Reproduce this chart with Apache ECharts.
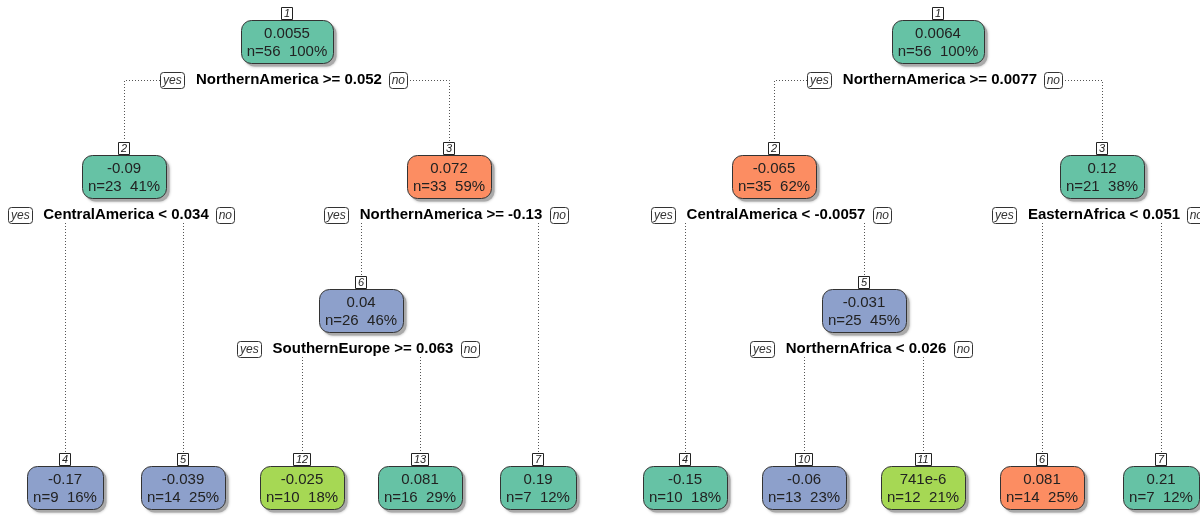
<!DOCTYPE html>
<html lang="en">
<head>
<meta charset="UTF-8">
<title>rpart trees</title>
<script src="https://cdn.jsdelivr.net/npm/echarts@6/dist/echarts.min.js"></script>
<style>
    html, body { margin: 0; padding: 0; background: #fff; }
    #main { width: 1200px; height: 517px; }
</style>
</head>
<body>
<div id="main"></div>
<script>
// left tree (rpart node numbering: children of k are 2k and 2k+1)
var leftIds = [1, 2, 3, 4, 5, 6, 12, 13, 7];
var leftValues = ['0.0055', '-0.09', '0.072', '-0.17', '-0.039', '0.04', '-0.025', '0.081', '0.19'];
var leftN = [56, 23, 33, 9, 14, 26, 10, 16, 7];
var leftPct = [100, 41, 59, 16, 25, 46, 18, 29, 12];
var leftClass = ['g', 'g', 'o', 'b', 'b', 'b', 'l', 'g', 'g'];
var leftSplitIds = [1, 2, 3, 6];
var leftSplits = ['NorthernAmerica >= 0.052', 'CentralAmerica < 0.034', 'NorthernAmerica >= -0.13', 'SouthernEurope >= 0.063'];

// right tree
var rightIds = [1, 2, 3, 4, 5, 10, 11, 6, 7];
var rightValues = ['0.0064', '-0.065', '0.12', '-0.15', '-0.031', '-0.06', '741e-6', '0.081', '0.21'];
var rightN = [56, 35, 21, 10, 25, 13, 12, 14, 7];
var rightPct = [100, 62, 38, 18, 45, 23, 21, 25, 12];
var rightClass = ['g', 'o', 'g', 'g', 'b', 'b', 'l', 'o', 'g'];
var rightSplitIds = [1, 2, 3, 5];
var rightSplits = ['NorthernAmerica >= 0.0077', 'CentralAmerica < -0.0057', 'EasternAfrica < 0.051', 'NorthernAfrica < 0.026'];

var palette = { g: '#66C2A5', o: '#FC8D62', b: '#8DA0CB', l: '#A6D854' };

var LEAF_LEVEL = 3.316;   // leaves fall to the bottom
var FONT_NODE = '15px "Liberation Sans", Arial, sans-serif';
var FONT_SPLIT = 'bold 15px "Liberation Sans", Arial, sans-serif';
var FONT_YESNO = 'italic 12px "Liberation Sans", Arial, sans-serif';
var FONT_NUM = 'italic 11px "Liberation Sans", Arial, sans-serif';

var mctx = document.createElement('canvas').getContext('2d');
function textW(s, font) {
    mctx.font = font;
    return mctx.measureText(s).width;
}

// leaves get 0,1,2.. left to right, inner nodes sit over the middle of their children
function layoutTree(ids) {
    var has = {}, pos = {}, leafCount = 0;
    ids.forEach(function (id) { has[id] = true; });
    function visit(id, depth) {
        if (has[id * 2]) {
            visit(id * 2, depth + 1);
            visit(id * 2 + 1, depth + 1);
            pos[id] = { x: (pos[id * 2].x + pos[id * 2 + 1].x) / 2, y: depth };
        } else {
            pos[id] = { x: leafCount++, y: LEAF_LEVEL };
        }
    }
    visit(1, 0);
    return pos;
}

function makeTree(ids, values, n, pct, cls, splitIds, splits) {
    var split = {};
    splitIds.forEach(function (id, k) { split[id] = splits[k]; });
    return { ids: ids, values: values, n: n, pct: pct, cls: cls, split: split, pos: layoutTree(ids) };
}

var trees = [
    makeTree(leftIds, leftValues, leftN, leftPct, leftClass, leftSplitIds, leftSplits),
    makeTree(rightIds, rightValues, rightN, rightPct, rightClass, rightSplitIds, rightSplits)
];

var BOX_H = 43, NUM_H = 12;

function boxTop(api, tree, id) {
    var p = tree.pos[id];
    var c = api.coord([p.x, p.y]);
    return { x: Math.round(c[0]), top: Math.round(c[1] - BOX_H / 2) };
}

function makeRender(tree) {
    return function (params, api) {
        var i = api.value(2);
        var id = tree.ids[i];
        var c = api.coord([api.value(0), api.value(1)]);
        var cx = Math.round(c[0]), cy = Math.round(c[1]);
        var els = [];
        var dotted = { stroke: '#555', lineWidth: 1, lineDash: [1, 2], fill: null };

        // split label, yes/no tags and branches
        if (tree.split[id]) {
            var label = tree.split[id];
            var yS = cy + 39;
            var tw = textW(label, FONT_SPLIT);
            var tl = cx + 2 - tw / 2, tr = cx + 2 + tw / 2;
            var yw = textW('yes', FONT_YESNO) + 5, nw = textW('no', FONT_YESNO) + 5;
            var yesL = Math.round(tl - 12 - yw), noR = Math.round(tr + 7 + nw);

            [id * 2, id * 2 + 1].forEach(function (cid, side) {
                var ch = boxTop(api, tree, cid);
                var bottom = ch.top - NUM_H - 1;
                var lx = ch.x + 0.5;
                var pts;
                if (side === 0 && ch.x < yesL) {
                    pts = [[yesL, yS + 0.5], [lx, yS + 0.5], [lx, bottom]];
                } else if (side === 1 && ch.x > noR) {
                    pts = [[noR, yS + 0.5], [lx, yS + 0.5], [lx, bottom]];
                } else {
                    pts = [[lx, yS + 8], [lx, bottom]];
                }
                els.push({ type: 'polyline', shape: { points: pts }, style: dotted });
            });

            els.push({ type: 'text', style: { text: label, x: cx + 2, y: yS, font: FONT_SPLIT, fill: '#000', align: 'center', verticalAlign: 'middle' } });
            els.push({ type: 'rect', shape: { x: yesL + 0.5, y: yS - 8 + 0.5, width: Math.round(yw), height: 16, r: 3 }, style: { fill: '#fff', stroke: '#333', lineWidth: 1 } });
            els.push({ type: 'text', style: { text: 'yes', x: yesL + yw / 2 + 0.5, y: yS + 0.5, font: FONT_YESNO, fill: '#333', align: 'center', verticalAlign: 'middle' } });
            els.push({ type: 'rect', shape: { x: noR - Math.round(nw) + 0.5, y: yS - 8 + 0.5, width: Math.round(nw), height: 16, r: 3 }, style: { fill: '#fff', stroke: '#333', lineWidth: 1 } });
            els.push({ type: 'text', style: { text: 'no', x: noR - nw / 2 + 0.5, y: yS + 0.5, font: FONT_YESNO, fill: '#333', align: 'center', verticalAlign: 'middle' } });
        }

        // node box with its gray drop shadow
        var line1 = tree.values[i];
        var line2 = 'n=' + tree.n[i] + '  ' + tree.pct[i] + '%';
        var w = Math.round(Math.max(textW(line1, FONT_NODE), textW(line2, FONT_NODE)) + 12);
        var top = Math.round(cy - BOX_H / 2);
        els.push({
            type: 'rect',
            shape: { x: cx - w / 2 + 3.5, y: top + 3.5, width: w, height: BOX_H, r: 10 },
            style: { fill: '#aaa', shadowColor: '#aaa', shadowBlur: 3 }
        });
        els.push({
            type: 'rect',
            shape: { x: cx - w / 2 + 0.5, y: top + 0.5, width: w, height: BOX_H, r: 10 },
            style: { fill: palette[tree.cls[i]], stroke: '#333', lineWidth: 1 }
        });
        els.push({ type: 'text', style: { text: line1, x: cx, y: cy - 7, font: FONT_NODE, fill: '#222', align: 'center', verticalAlign: 'middle' } });
        els.push({ type: 'text', style: { text: line2, x: cx, y: cy + 11, font: FONT_NODE, fill: '#222', align: 'center', verticalAlign: 'middle' } });

        // node number tag
        var numW = Math.round(textW(String(id), FONT_NUM) + 5);
        els.push({ type: 'rect', shape: { x: cx - Math.round(numW / 2) + 0.5, y: top - NUM_H - 1 + 0.5, width: numW, height: NUM_H }, style: { fill: '#fff', stroke: '#222', lineWidth: 1 } });
        els.push({ type: 'text', style: { text: String(id), x: cx, y: top - NUM_H / 2 - 0.5, font: FONT_NUM, fill: '#222', align: 'center', verticalAlign: 'middle' } });

        return { type: 'group', children: els };
    };
}

// px of first leaf and leaf spacing for each panel
var panels = [{ first: 65, step: 118.25 }, { first: 685, step: 119 }];
var W = 1200, H = 517;
var yMin = -41 / 134.5, yMax = (H - 41) / 134.5;

var grids = [], xAxes = [], yAxes = [], series = [];
trees.forEach(function (tree, k) {
    grids.push({ left: 0, top: 0, width: W, height: H });
    xAxes.push({ type: 'value', gridIndex: k, show: false, min: -panels[k].first / panels[k].step, max: (W - panels[k].first) / panels[k].step });
    yAxes.push({ type: 'value', gridIndex: k, show: false, inverse: true, min: yMin, max: yMax });
    series.push({
        type: 'custom',
        xAxisIndex: k,
        yAxisIndex: k,
        clip: false,
        renderItem: makeRender(tree),
        encode: { x: 0, y: 1 },
        data: tree.ids.map(function (id, i) { return [tree.pos[id].x, tree.pos[id].y, i]; })
    });
});

var chart = echarts.init(document.getElementById('main'));
chart.setOption({
    animation: false,
    backgroundColor: '#fff',
    grid: grids,
    xAxis: xAxes,
    yAxis: yAxes,
    series: series
});
</script>
</body>
</html>
